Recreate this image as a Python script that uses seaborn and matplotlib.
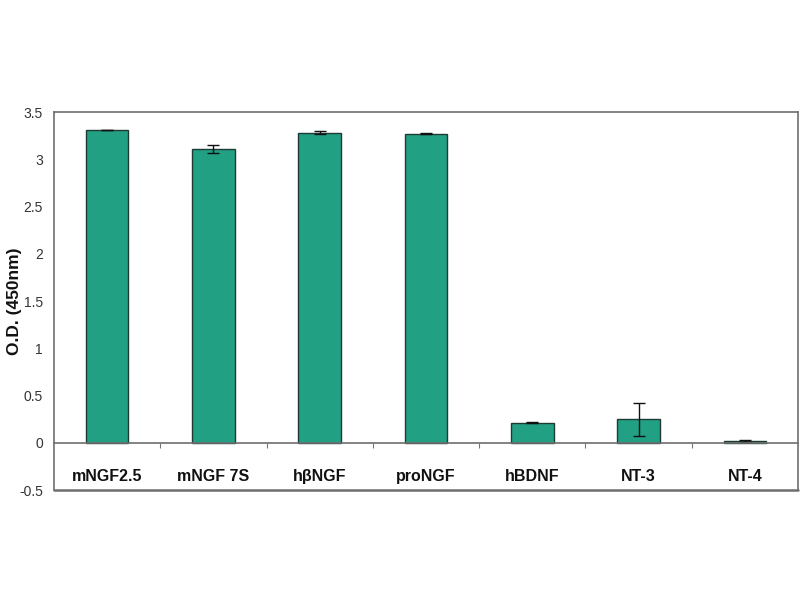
import matplotlib
matplotlib.use("Agg")
import matplotlib.pyplot as plt
import seaborn as sns
import pandas as pd

sns.set_style("white")

# -----------------------------
# Data
# -----------------------------
samples = ["mNGF2.5", "mNGF 7S", "hβNGF", "proNGF", "hBDNF", "NT-3", "NT-4"]
od_450 = [3.31, 3.11, 3.28, 3.27, 0.21, 0.25, 0.02]
od_err = [0.005, 0.04, 0.015, 0.005, 0.005, 0.175, 0.01]
y_ticks = [-0.5, 0, 0.5, 1, 1.5, 2, 2.5, 3, 3.5]

df = pd.DataFrame({"sample": samples, "od": od_450, "err": od_err})

bar_color = "#22a083"
edge_color = "#1d3b33"
frame_color = "#6e6e6e"

fig = plt.figure(figsize=(8, 6), dpi=100)
ax = fig.add_axes([0.0675, 0.1833, 0.93, 0.63])

sns.barplot(data=df, x="sample", y="od", color=bar_color, width=0.4,
            edgecolor=edge_color, linewidth=1.0, saturation=1, errorbar=None, ax=ax)
ax.errorbar(range(len(samples)), df["od"], yerr=df["err"], fmt="none",
            ecolor="#111111", elinewidth=1.0, capsize=4, capthick=1.0)

ax.set_xlim(-0.5, len(samples) - 0.5)
ax.set_ylim(-0.5, 3.5)
ax.set_yticks(y_ticks)
ax.set_yticklabels([f"{v:g}" for v in y_ticks],
                   fontfamily=["Liberation Sans Narrow", "Liberation Sans"],
                   fontsize=10, color="#333333")
ax.tick_params(axis="y", length=0, pad=8)

# zero line carries the category axis
ax.spines["bottom"].set_position(("data", 0))
for side in ["bottom", "top", "left", "right"]:
    ax.spines[side].set_color(frame_color)
    ax.spines[side].set_linewidth(1.2)
ax.axhline(-0.5, color=frame_color, linewidth=1.8, clip_on=False)

ax.set_xticks(range(len(samples)))
ax.set_xticklabels(samples, fontfamily="Liberation Sans", fontweight="bold",
                   fontsize=11.5, color="#111111")
ax.tick_params(axis="x", which="major", bottom=True, length=0, pad=19)
ax.set_xticks([i + 0.5 for i in range(len(samples) - 1)], minor=True)
ax.tick_params(axis="x", which="minor", bottom=True, length=3.5, width=0.8,
               color="#777777", direction="out")

ax.set_xlabel("")
ax.set_ylabel("O.D. (450nm)", fontfamily="Liberation Sans", fontweight="bold",
              fontsize=12.5, color="#111111")
ax.yaxis.set_label_coords(-0.043, 0.5)

fig.savefig("out.png", dpi=100)
